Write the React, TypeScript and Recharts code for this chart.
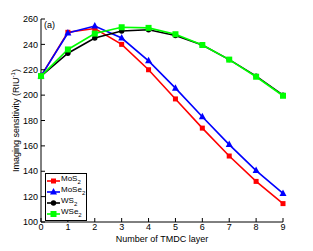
// imaging sensitivity vs number of TMDC layers
import React from "react";
import { LineChart, Line, XAxis, YAxis } from "recharts";

const layers = [0, 1, 2, 3, 4, 5, 6, 7, 8, 9];
const mos2 = [215, 249.5, 252.5, 240, 220, 197, 174, 152, 132, 114.5];
const mose2 = [215, 249, 254.5, 245, 227, 205.5, 183, 161, 140.5, 122.5];
const ws2 = [215, 233, 245, 250.5, 251.5, 247, 239.5, 228, 215, 200];
const wse2 = [215, 236, 248.5, 253.5, 253, 248, 239.5, 228, 214.5, 199.5];
const xTicks = [0, 1, 2, 3, 4, 5, 6, 7, 8, 9];
const yTicks = [100, 120, 140, 160, 180, 200, 220, 240, 260];

const font = "'Liberation Sans', Arial, sans-serif";

const data = layers.map((l, i) => ({
  layer: l,
  mos2: mos2[i],
  mose2: mose2[i],
  ws2: ws2[i],
  wse2: wse2[i],
}));

type Shape = "square" | "triangle" | "circle" | "bigsquare";

const series: { key: string; name: string; color: string; shape: Shape }[] = [
  { key: "mos2", name: "MoS", color: "#ff0000", shape: "square" },
  { key: "mose2", name: "MoSe", color: "#0000ff", shape: "triangle" },
  { key: "ws2", name: "WS", color: "#000000", shape: "circle" },
  { key: "wse2", name: "WSe", color: "#00ff00", shape: "bigsquare" },
];

function marker(shape: Shape, cx: number, cy: number, color: string, key?: string) {
  if (shape === "square")
    return <rect key={key} x={cx - 2.5} y={cy - 2.5} width={5} height={5} fill={color} />;
  if (shape === "bigsquare")
    return <rect key={key} x={cx - 3} y={cy - 3} width={6} height={6} fill={color} />;
  if (shape === "circle")
    return <circle key={key} cx={cx} cy={cy} r={2.7} fill={color} />;
  return (
    <polygon
      key={key}
      points={`${cx},${cy - 4} ${cx + 3.5},${cy + 2.5} ${cx - 3.5},${cy + 2.5}`}
      fill={color}
    />
  );
}

const tickStyle = { fill: "#000", fontSize: 9, fontFamily: font };

function YLabel({ viewBox }: any) {
  const cx = 16;
  const cy = viewBox.y + viewBox.height / 2;
  return (
    <text
      x={cx}
      y={cy}
      transform={`rotate(-90 ${cx} ${cy})`}
      textAnchor="middle"
      fontSize={9}
      fontFamily={font}
      fill="#000"
      dominantBaseline="central"
    >
      Imaging sensitivity (RIU
      <tspan dy={-3} fontSize={6}>-1</tspan>
      <tspan dy={3}>)</tspan>
    </text>
  );
}

function XLabel({ viewBox }: any) {
  return (
    <text
      x={viewBox.x + viewBox.width / 2}
      y={viewBox.y + 20}
      textAnchor="middle"
      fontSize={9}
      fontFamily={font}
      fill="#000"
    >
      Number of TMDC layer
    </text>
  );
}

export default function App() {
  return (
    <div style={{ position: "absolute", left: 0, top: 0, width: 313, height: 251, background: "#fff" }}>
      <LineChart
        width={313}
        height={251}
        data={data}
        margin={{ top: 19, right: 30, left: 0, bottom: 0 }}
      >
        <XAxis
          dataKey="layer"
          type="number"
          domain={[0, 9]}
          ticks={xTicks}
          interval={0}
          height={29}
          tickSize={-4}
          tickMargin={6}
          tick={tickStyle}
          axisLine={{ stroke: "#000" }}
          tickLine={{ stroke: "#000" }}
          label={<XLabel />}
        />
        <XAxis
          xAxisId="top"
          orientation="top"
          dataKey="layer"
          type="number"
          domain={[0, 9]}
          ticks={xTicks}
          height={0}
          tickSize={-4}
          tick={false}
          axisLine={{ stroke: "#000" }}
          tickLine={{ stroke: "#000" }}
        />
        <YAxis
          domain={[100, 260]}
          ticks={yTicks}
          interval={0}
          width={41}
          tickSize={-4}
          tickMargin={7}
          tick={tickStyle}
          axisLine={{ stroke: "#000" }}
          tickLine={{ stroke: "#000" }}
          label={<YLabel />}
        />
        <YAxis
          yAxisId="right"
          orientation="right"
          domain={[100, 260]}
          ticks={yTicks}
          width={0}
          tickSize={-4}
          tick={false}
          axisLine={{ stroke: "#000" }}
          tickLine={{ stroke: "#000" }}
        />
        {series.map((s) => (
          <Line
            key={s.key}
            dataKey={s.key}
            stroke={s.color}
            strokeWidth={1.6}
            isAnimationActive={false}
            dot={(p: any) => marker(s.shape, p.cx, p.cy, s.color, `${s.key}-${p.index}`)}
            activeDot={false}
          />
        ))}
        <text x={44} y={28} fontSize={9} fontFamily={font} fill="#000">
          (a)
        </text>
      </LineChart>
      <div
        style={{
          position: "absolute",
          left: 45,
          top: 173,
          width: 40,
          height: 45,
          border: "1px solid #000",
          background: "#fff",
          fontFamily: font,
          fontSize: 8,
          lineHeight: "11px",
          paddingTop: 1,
        }}
      >
        {series.map((s) => (
          <div key={s.key} style={{ display: "flex", alignItems: "center", height: 11 }}>
            <svg width={15} height={11} style={{ flex: "none" }}>
              <line x1={1} x2={14} y1={6} y2={6} stroke={s.color} strokeWidth={1.6} />
              {marker(s.shape, 7.5, 6, s.color)}
            </svg>
            <span>
              {s.name}
              <sub style={{ fontSize: 6, verticalAlign: -3 }}>2</sub>
            </span>
          </div>
        ))}
      </div>
    </div>
  );
}
